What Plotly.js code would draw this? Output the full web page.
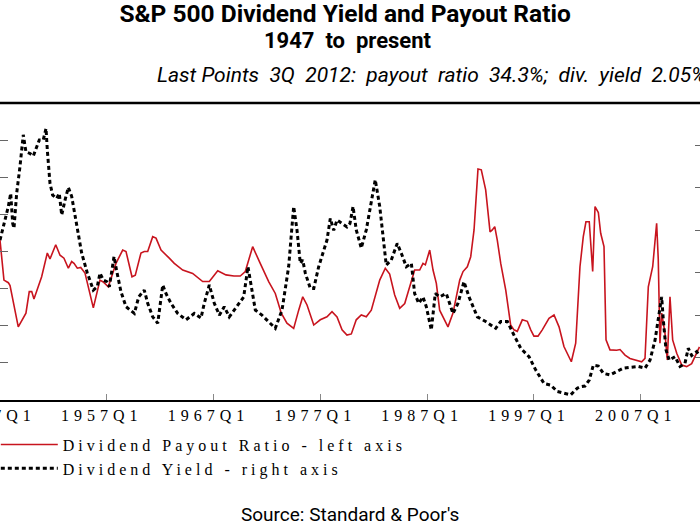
<!DOCTYPE html>
<html>
<head>
<meta charset="utf-8">
<script src="https://cdn.plot.ly/plotly-3.0.1.min.js"></script>
<style>
  html, body { margin: 0; padding: 0; background: #fff; }
  #chart { width: 700px; height: 525px; }
  .xtick text { letter-spacing: 5px; }
  .legendtext { letter-spacing: 4px; }
</style>
</head>
<body>
<div id="chart"></div>
<script>
// ---- Data ----
const payoutYears = [1947.00,1947.37,1947.78,1947.94,1948.71,1949.43,1949.74,1949.97,1950.18,1950.90,1951.43,1951.68,1952.22,1952.62,1952.99,1953.40,1953.71,1953.93,1954.24,1954.56,1954.96,1955.74,1956.36,1956.67,1957.14,1957.77,1957.86,1958.49,1958.80,1959.36,1959.67,1960.20,1960.51,1960.83,1961.30,1961.61,1962.08,1962.85,1963.32,1964.11,1965.04,1965.98,1966.60,1967.39,1968.16,1968.91,1969.50,1969.97,1970.66,1971.37,1972.16,1972.78,1973.34,1973.87,1974.50,1974.97,1975.35,1975.75,1976.38,1976.99,1977.62,1978.09,1978.56,1979.03,1979.49,1979.90,1980.36,1980.83,1981.30,1981.77,1982.56,1983.08,1983.49,1983.96,1984.43,1984.90,1985.52,1985.83,1986.30,1986.61,1986.83,1987.24,1987.55,1987.86,1988.17,1988.95,1989.42,1990.05,1990.36,1990.76,1991.08,1991.39,1991.76,1992.07,1992.48,1992.89,1993.10,1993.33,1993.57,1993.89,1994.36,1994.82,1995.13,1995.44,1995.91,1996.38,1996.70,1997.00,1997.38,1997.78,1998.41,1998.88,1999.35,1999.81,2000.50,2000.91,2001.31,2001.62,2001.87,2002.18,2002.50,2002.72,2003.03,2003.25,2003.56,2003.75,2004.12,2004.75,2005.06,2005.53,2005.99,2006.46,2007.09,2007.40,2007.71,2008.12,2008.49,2008.64,2008.80,2008.96,2009.27,2009.49,2009.74,2009.99,2010.37,2010.84,2011.30,2011.77,2012.08,2012.50];
const payoutRatio = [63.1,52.3,51.6,50.8,39.7,43.4,49.2,49.2,47.2,53.2,59.6,58.0,61.8,59.0,58.2,55.5,57.3,56.8,55.5,55.7,54.2,44.8,52.3,51.8,50.5,55.9,56.8,60.4,60.0,53.2,53.6,59.6,60.0,60.0,64.0,63.6,60.4,58.2,56.8,55.0,54.1,51.9,51.9,54.8,53.7,53.4,53.4,54.6,61.3,56.8,51.9,48.7,43.4,40.7,39.3,44.2,47.8,45.6,40.2,41.6,42.4,43.8,42.4,38.9,37.5,37.8,41.6,42.9,42.4,44.2,52.3,55.5,53.9,48.3,44.7,46.0,51.9,55.0,55.0,56.8,56.4,60.4,55.0,51.4,44.2,39.7,43.4,52.3,54.6,55.9,58.6,65.8,82.2,82.0,76.6,65.3,65.8,66.7,63.0,56.8,49.6,40.2,38.9,38.5,41.6,41.2,38.9,37.2,37.2,38.9,42.0,42.9,39.7,34.4,30.3,35.3,55.9,64.0,68.0,68.0,54.6,72.1,70.5,64.9,61.3,36.2,33.5,33.4,33.6,32.1,31.2,30.8,30.3,31.2,50.5,55.9,67.6,58.0,35.3,43.4,38.0,30.8,47.8,36.2,32.6,29.4,29.0,29.8,31.7,34.3];

const yieldYears = [1947.00,1947.31,1947.78,1948.00,1948.19,1948.31,1948.56,1948.87,1949.18,1949.43,1949.81,1950.12,1950.68,1951.05,1951.31,1951.43,1951.68,1951.93,1952.31,1952.55,1952.78,1953.09,1953.40,1953.71,1954.18,1954.65,1955.18,1955.74,1956.11,1956.36,1956.67,1956.99,1957.24,1957.68,1957.91,1958.33,1958.80,1959.58,1959.99,1960.51,1960.83,1961.30,1961.77,1962.24,1962.54,1963.01,1963.64,1964.42,1965.19,1965.82,1966.13,1966.60,1967.07,1967.54,1968.00,1968.47,1969.17,1969.82,1970.22,1970.60,1970.91,1971.53,1972.16,1972.78,1973.41,1974.03,1974.50,1974.81,1975.12,1975.35,1975.59,1976.06,1976.38,1976.84,1977.62,1977.93,1978.25,1978.56,1979.03,1979.49,1979.77,1980.06,1980.36,1980.83,1981.30,1981.62,1982.14,1982.56,1982.87,1983.17,1983.64,1984.20,1984.58,1985.05,1985.52,1985.83,1986.21,1986.61,1986.92,1987.39,1987.76,1988.17,1988.79,1989.42,1989.89,1990.45,1990.92,1991.70,1992.48,1993.42,1993.89,1994.51,1995.13,1995.76,1996.54,1997.16,1997.94,1998.57,1999.19,1999.81,2000.44,2001.06,2001.31,2001.78,2002.18,2002.56,2003.03,2003.49,2004.12,2004.75,2005.37,2005.99,2006.77,2007.40,2007.87,2008.34,2008.74,2008.96,2009.11,2009.37,2009.67,2010.21,2010.68,2011.14,2011.45,2011.77,2012.24,2012.50];
const divYield = [4.77,5.08,5.56,5.87,5.16,5.05,5.87,6.50,7.25,6.85,6.81,6.75,7.13,7.13,7.40,6.89,6.11,5.83,5.75,5.87,5.36,5.71,6.01,5.80,5.08,4.46,3.99,3.59,3.67,3.99,3.83,3.79,3.67,4.38,4.06,3.55,3.20,3.04,3.43,3.59,3.28,2.96,2.81,3.71,3.51,3.28,3.04,2.89,3.04,2.93,3.28,3.71,3.28,3.00,3.20,2.96,3.20,3.43,4.14,3.59,3.12,3.00,2.85,2.69,3.12,4.14,5.56,5.01,4.22,4.30,3.99,3.63,3.63,4.14,4.77,5.28,5.00,5.24,5.16,5.08,5.16,5.56,5.01,4.58,5.01,5.48,6.19,5.56,4.77,4.18,4.30,4.69,4.46,4.14,4.22,3.51,3.28,3.43,3.20,2.65,3.51,3.43,3.51,3.04,3.28,3.79,3.43,2.96,2.85,2.69,2.85,2.85,2.53,2.22,2.02,1.71,1.39,1.35,1.20,1.16,1.12,1.28,1.31,1.33,1.47,1.82,1.80,1.63,1.59,1.67,1.75,1.77,1.79,1.75,1.94,2.41,3.04,3.43,2.90,2.18,1.94,2.02,1.79,1.86,2.22,2.05,2.14,2.05];

const tickYears = [1947, 1957, 1967, 1977, 1987, 1997, 2007];
const tickLabels = ["1947Q1", "1957Q1", "1967Q1", "1977Q1", "1987Q1", "1997Q1", "2007Q1"];

const payoutTicks = [20, 30, 40, 50, 60, 70, 80, 90, 100];
const yieldTicks = [1, 2, 3, 4, 5, 6, 7, 8];

const chartTitle = "S&P 500 Dividend Yield and Payout Ratio";
const chartSubtitle = "1947\u00a0\u00a0to\u00a0\u00a0present";
const lastPointsNote = "Last\u00a0Points\u00a0\u00a03Q\u00a0\u00a02012:\u00a0\u00a0payout\u00a0\u00a0ratio\u00a0\u00a034.3%;\u00a0\u00a0div.\u00a0\u00a0yield\u00a0\u00a02.05%";
const sourceNote = "Source: Standard & Poor's";

// ---- Chart ----
const traces = [
  {
    x: payoutYears, y: payoutRatio, type: "scatter", mode: "lines",
    name: "Dividend Payout Ratio - left axis",
    line: { color: "#c8141e", width: 1.6 },
    yaxis: "y"
  },
  {
    x: yieldYears, y: divYield, type: "scatter", mode: "lines",
    name: "Dividend Yield - right axis",
    line: { color: "#000000", width: 3, dash: "4px,3px" },
    yaxis: "y2"
  }
];

const serif = "Liberation Serif, Times New Roman, serif";
const narrow = "Liberation Sans Narrow, Arial Narrow, Roboto, Liberation Sans, sans-serif";

const layout = {
  width: 700, height: 525,
  margin: { l: 0, r: 0, t: 103, b: 125, pad: 0, autoexpand: false },
  paper_bgcolor: "#ffffff", plot_bgcolor: "#ffffff",
  showlegend: true,
  title: {
    text: chartTitle,
    font: { family: narrow, size: 24.5, color: "#000", weight: "bold" },
    x: 0.493, xanchor: "center", y: 0.99, yanchor: "top", automargin: false
  },
  xaxis: {
    range: [1947, 2012.55],
    tickmode: "array", tickvals: tickYears, ticktext: tickLabels,
    ticks: "inside", ticklen: 6, tickwidth: 1, tickcolor: "#888",
    showline: true, linecolor: "#000", linewidth: 2,
    showgrid: false, zeroline: false, automargin: false,
    tickfont: { family: serif, size: 16, color: "#000" },
    ticklabelshift: -5, ticklabeloverflow: "allow"
  },
  yaxis: {
    range: [20, 100], tickmode: "array", tickvals: payoutTicks,
    ticks: "inside", ticklen: 8, tickwidth: 1, tickcolor: "#666",
    showticklabels: false, showline: false, showgrid: false, zeroline: false
  },
  yaxis2: {
    range: [1, 8], tickmode: "array", tickvals: yieldTicks,
    overlaying: "y", side: "right",
    ticks: "inside", ticklen: 5, tickwidth: 1, tickcolor: "#666",
    showticklabels: false, showline: false, showgrid: false, zeroline: false
  },
  legend: {
    x: -0.006, xanchor: "left", y: -0.093, yanchor: "top",
    orientation: "v", itemwidth: 57, tracegroupgap: 0,
    font: { family: serif, size: 16, color: "#000" },
    bgcolor: "rgba(0,0,0,0)"
  },
  shapes: [
    { type: "line", xref: "paper", yref: "paper", x0: 0, x1: 1, y0: 1, y1: 1,
      line: { color: "#000", width: 2.5 } }
  ],
  annotations: [
    { text: "<b>" + chartSubtitle + "</b>", xref: "paper", yref: "paper", x: 0.497, y: 1.21,
      xanchor: "center", yanchor: "middle", showarrow: false,
      font: { family: narrow, size: 22, color: "#000" } },
    { text: lastPointsNote, xref: "paper", yref: "paper", x: 1.012, y: 1.095,
      xanchor: "right", yanchor: "middle", showarrow: false,
      font: { family: narrow, size: 21, style: "italic", color: "#000" } },
    { text: sourceNote, xref: "paper", yref: "paper", x: 0.5, y: -0.385,
      xanchor: "center", yanchor: "middle", showarrow: false,
      font: { family: narrow, size: 19, color: "#000" } }
  ]
};

Plotly.newPlot("chart", traces, layout, { displayModeBar: false, staticPlot: true });
</script>
</body>
</html>
